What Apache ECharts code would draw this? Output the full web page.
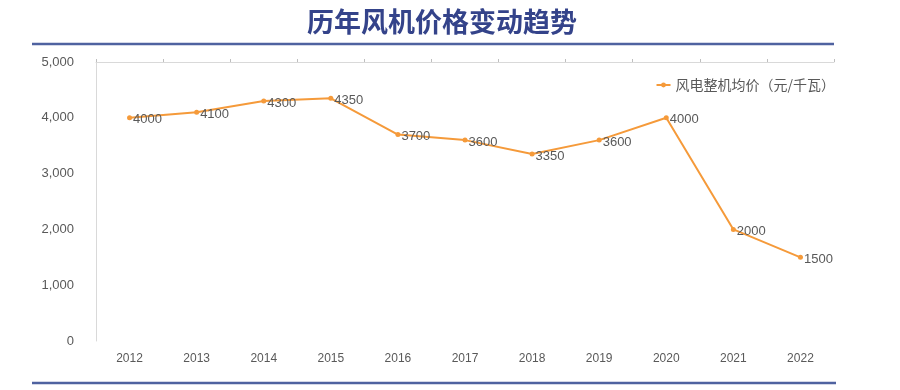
<!DOCTYPE html>
<html>
<head>
<meta charset="utf-8">
<script src="https://cdn.jsdelivr.net/npm/echarts@6/dist/echarts.min.js"></script>
<style>html,body{margin:0;padding:0;background:#fff;}#c{width:900px;height:390px;}</style>
</head>
<body>
<div id="c"></div>
<script>
var years = ['2012','2013','2014','2015','2016','2017','2018','2019','2020','2021','2022'];
var prices = [4000, 4100, 4300, 4350, 3700, 3600, 3350, 3600, 4000, 2000, 1500];
var yTickLabels = {0:'0', 1000:'1,000', 2000:'2,000', 3000:'3,000', 4000:'4,000', 5000:'5,000'};
var seriesName = '风电整机均价（元/千瓦）';
var titleText = '历年风机价格变动趋势';

var chart = echarts.init(document.getElementById('c'));
chart.setOption({
  animation: false,
  backgroundColor: '#ffffff',
  title: {
    text: titleText, left: 302, top: 3,
    textStyle: {fontFamily: 'Noto Sans CJK SC', fontSize: 27, fontWeight: 'bold', color: '#34438a'}
  },
  legend: {
    data: [seriesName], right: 60, top: 73, itemWidth: 14, itemHeight: 6, itemGap: 3,
    textStyle: {fontFamily: 'Noto Sans CJK SC', fontSize: 14, color: '#595959'}
  },
  grid: {left: 96, right: 66, top: 62, bottom: 49},
  xAxis: [{
    type: 'category', data: years, boundaryGap: true,
    axisLine: {show: false}, axisTick: {show: false},
    axisLabel: {color: '#595959', fontSize: 12, fontFamily: 'Liberation Sans', margin: 12}
  }, {
    type: 'category', data: years, position: 'top', boundaryGap: true,
    axisLine: {show: true, lineStyle: {color: '#d9d9d9', width: 1}},
    axisTick: {show: true, length: 3, lineStyle: {color: '#bfbfbf'}},
    axisLabel: {show: false}
  }],
  yAxis: {
    type: 'value', min: 0, max: 5000, interval: 1000,
    axisLine: {show: true, lineStyle: {color: '#d9d9d9'}},
    axisTick: {show: false},
    splitLine: {show: false},
    axisLabel: {color: '#595959', fontSize: 13, fontFamily: 'Liberation Sans', margin: 22,
      formatter: function (v) { return yTickLabels[v] !== undefined ? yTickLabels[v] : v; }}
  },
  graphic: [
    {type: 'line', shape: {x1: 32, y1: 44, x2: 834, y2: 44}, style: {stroke: '#4f62a0', lineWidth: 2.5}},
    {type: 'line', shape: {x1: 32, y1: 383, x2: 836, y2: 383}, style: {stroke: '#4f62a0', lineWidth: 2.5}}
  ],
  series: [{
    name: seriesName, type: 'line', data: prices, xAxisIndex: 0,
    symbol: 'circle', symbolSize: 5,
    lineStyle: {color: '#f59a3a', width: 2},
    itemStyle: {color: '#f59a3a'},
    label: {show: true, position: 'right', distance: 1, offset: [0, 2], color: '#595959', fontSize: 13, fontFamily: 'Liberation Sans'}
  }]
});
</script>
</body>
</html>
